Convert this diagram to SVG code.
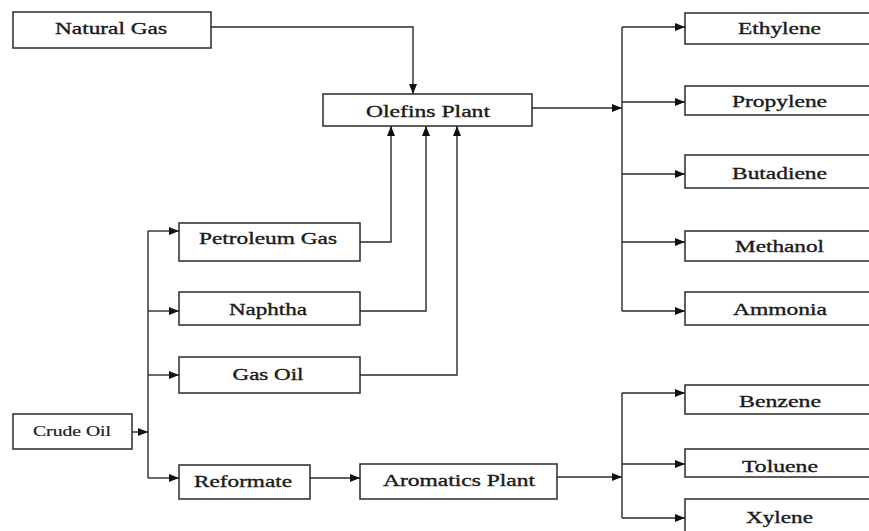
<svg xmlns="http://www.w3.org/2000/svg" width="869" height="531" viewBox="0 0 869 531">
<style>
.box{fill:#fff;stroke:#2a2a2a;stroke-width:1.5}
.lbl{font-family:"Liberation Serif","Times New Roman",serif;font-size:16.5px;fill:#1a1a1a;stroke:#1a1a1a;stroke-width:0.35;text-anchor:middle}
.sm{font-size:15px;stroke-width:0.2}
.c{fill:none;stroke:#2a2a2a;stroke-width:1.4}
.a{marker-end:url(#ah)}
</style>
<defs>
<marker id="ah" viewBox="0 0 10 8" refX="10" refY="4" markerWidth="10" markerHeight="8" markerUnits="userSpaceOnUse" orient="auto">
<path d="M0,0 L10,4 L0,8 Z" fill="#111"/>
</marker>
</defs>
<rect width="869" height="531" fill="#fff"/>
<g id="connectors">
<path class="c a" d="M211,27 H413 V94"/>
<path class="c a" d="M360,242 H391 V126"/>
<path class="c a" d="M360,311 H426 V126"/>
<path class="c a" d="M360,375 H457 V126"/>
<path class="c a" d="M132,432 H148"/>
<path class="c" d="M148,231 V478"/>
<path class="c a" d="M148,231 H179"/>
<path class="c a" d="M148,311 H179"/>
<path class="c a" d="M148,375 H179"/>
<path class="c a" d="M148,478 H179"/>
<path class="c a" d="M310,478 H360"/>
<path class="c a" d="M532,108 H622"/>
<path class="c" d="M622,27 V311"/>
<path class="c a" d="M622,27 H685"/>
<path class="c a" d="M622,102 H685"/>
<path class="c a" d="M622,174 H685"/>
<path class="c a" d="M622,242 H685"/>
<path class="c a" d="M622,311 H685"/>
<path class="c a" d="M557,477 H622"/>
<path class="c" d="M622,393 V518"/>
<path class="c a" d="M622,393 H685"/>
<path class="c a" d="M622,464 H685"/>
<path class="c a" d="M622,518 H685"/>
</g>
<g id="natural-gas"><rect class="box" x="13" y="12" width="198" height="36"/><text class="lbl" x="111" y="34" textLength="112" lengthAdjust="spacingAndGlyphs">Natural Gas</text></g>
<g id="olefins-plant"><rect class="box" x="323" y="94" width="209" height="32"/><text class="lbl" x="428" y="117" textLength="124" lengthAdjust="spacingAndGlyphs">Olefins Plant</text></g>
<g id="petroleum-gas"><rect class="box" x="179" y="223" width="181" height="38"/><text class="lbl" x="268" y="244" textLength="138" lengthAdjust="spacingAndGlyphs">Petroleum Gas</text></g>
<g id="naphtha"><rect class="box" x="179" y="292" width="181" height="33"/><text class="lbl" x="268" y="315" textLength="78" lengthAdjust="spacingAndGlyphs">Naphtha</text></g>
<g id="gas-oil"><rect class="box" x="179" y="357" width="181" height="36"/><text class="lbl" x="268" y="380" textLength="71" lengthAdjust="spacingAndGlyphs">Gas Oil</text></g>
<g id="crude-oil"><rect class="box" x="13" y="414" width="119" height="35"/><text class="lbl sm" x="72" y="436" textLength="78" lengthAdjust="spacingAndGlyphs">Crude Oil</text></g>
<g id="reformate"><rect class="box" x="179" y="465" width="131" height="34"/><text class="lbl" x="243" y="487" textLength="98" lengthAdjust="spacingAndGlyphs">Reformate</text></g>
<g id="aromatics-plant"><rect class="box" x="360" y="464" width="197" height="35"/><text class="lbl" x="459" y="486" textLength="152" lengthAdjust="spacingAndGlyphs">Aromatics Plant</text></g>
<g id="ethylene"><rect class="box" x="685" y="13" width="190" height="31"/><text class="lbl" x="779.5" y="34" textLength="83" lengthAdjust="spacingAndGlyphs">Ethylene</text></g>
<g id="propylene"><rect class="box" x="685" y="86" width="190" height="29"/><text class="lbl" x="779.5" y="107" textLength="95" lengthAdjust="spacingAndGlyphs">Propylene</text></g>
<g id="butadiene"><rect class="box" x="685" y="155" width="190" height="33"/><text class="lbl" x="779.5" y="179" textLength="95" lengthAdjust="spacingAndGlyphs">Butadiene</text></g>
<g id="methanol"><rect class="box" x="685" y="231" width="190" height="30"/><text class="lbl" x="779.5" y="252" textLength="89" lengthAdjust="spacingAndGlyphs">Methanol</text></g>
<g id="ammonia"><rect class="box" x="685" y="292" width="190" height="33"/><text class="lbl" x="780" y="315" textLength="94" lengthAdjust="spacingAndGlyphs">Ammonia</text></g>
<g id="benzene"><rect class="box" x="685" y="385" width="190" height="29"/><text class="lbl" x="780" y="407" textLength="82" lengthAdjust="spacingAndGlyphs">Benzene</text></g>
<g id="toluene"><rect class="box" x="685" y="449" width="190" height="28"/><text class="lbl" x="780" y="472" textLength="76" lengthAdjust="spacingAndGlyphs">Toluene</text></g>
<g id="xylene"><rect class="box" x="685" y="499" width="190" height="40"/><text class="lbl" x="779.5" y="523" textLength="67" lengthAdjust="spacingAndGlyphs">Xylene</text></g>
</svg>
